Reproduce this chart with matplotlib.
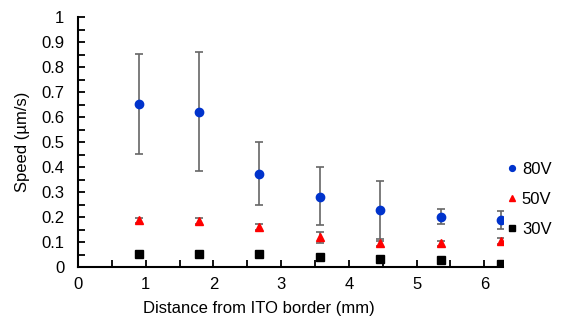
import matplotlib.pyplot as plt
from matplotlib.ticker import MultipleLocator

plt.rcParams['font.family'] = ['Liberation Sans', 'DejaVu Sans']

distance = [0.90, 1.785, 2.68, 3.575, 4.46, 5.355, 6.25]

v80 = [0.652, 0.621, 0.375, 0.281, 0.228, 0.200, 0.188]
v80_err_lo = [0.200, 0.235, 0.126, 0.112, 0.116, 0.027, 0.034]
v80_err_hi = [0.202, 0.239, 0.128, 0.121, 0.117, 0.032, 0.036]

v50 = [0.189, 0.184, 0.162, 0.120, 0.096, 0.096, 0.105]
v50_err = [0.010, 0.012, 0.012, 0.022, 0.010, 0.010, 0.012]

v30 = [0.052, 0.054, 0.054, 0.043, 0.035, 0.028, 0.013]
v30_err = [0.004, 0.004, 0.004, 0.004, 0.004, 0.008, 0.012]

fig = plt.figure(figsize=(5.88, 3.27), dpi=100)
ax = fig.add_axes([0.1327, 0.1826, 0.722, 0.7645])

eb = dict(ecolor='#666666', elinewidth=1.2, capsize=3, capthick=1.2, linestyle='none')
ax.errorbar(distance, v80, yerr=[v80_err_lo, v80_err_hi], fmt='o', color='#0033cc',
            markersize=6, label='80V', **eb)
ax.errorbar(distance, v50, yerr=v50_err, fmt='^', color='#ff0000',
            markersize=6, label='50V', **eb)
ax.errorbar(distance, v30, yerr=v30_err, fmt='s', color='#000000',
            markersize=5.5, label='30V', **eb)

ax.set_xlim(0, 6.27)
ax.set_ylim(0, 1)
ax.xaxis.set_major_locator(MultipleLocator(1))
ax.xaxis.set_minor_locator(MultipleLocator(0.5))
ax.set_yticks([i / 10 for i in range(11)])
ax.set_yticklabels(['0'] + [f'{v / 10:.1f}' for v in range(1, 10)] + ['1'])
ax.yaxis.set_minor_locator(MultipleLocator(0.05))

for s in ['top', 'right']:
    ax.spines[s].set_visible(False)
for s in ['left', 'bottom']:
    ax.spines[s].set_linewidth(1.5)

ax.tick_params(which='both', direction='in', width=1.3, length=5, labelsize=12)
ax.tick_params(axis='x', pad=7)
ax.tick_params(axis='y', pad=10)

ax.set_xlabel('Distance from ITO border (mm)', fontsize=12)
ax.set_ylabel('Speed (µm/s)', fontsize=12)
ax.xaxis.set_label_coords(0.426, -0.135)
ax.yaxis.set_label_coords(-0.112, 0.5)

handles, labels = ax.get_legend_handles_labels()
handles = [h[0] for h in handles]
fig.legend(handles, labels, loc='center left', bbox_to_anchor=(0.828, 0.39),
           frameon=False, fontsize=12, handletextpad=0.0, markerscale=0.7,
           labelspacing=0.9, handlelength=1.2)

fig.savefig('out.png', dpi=100)
